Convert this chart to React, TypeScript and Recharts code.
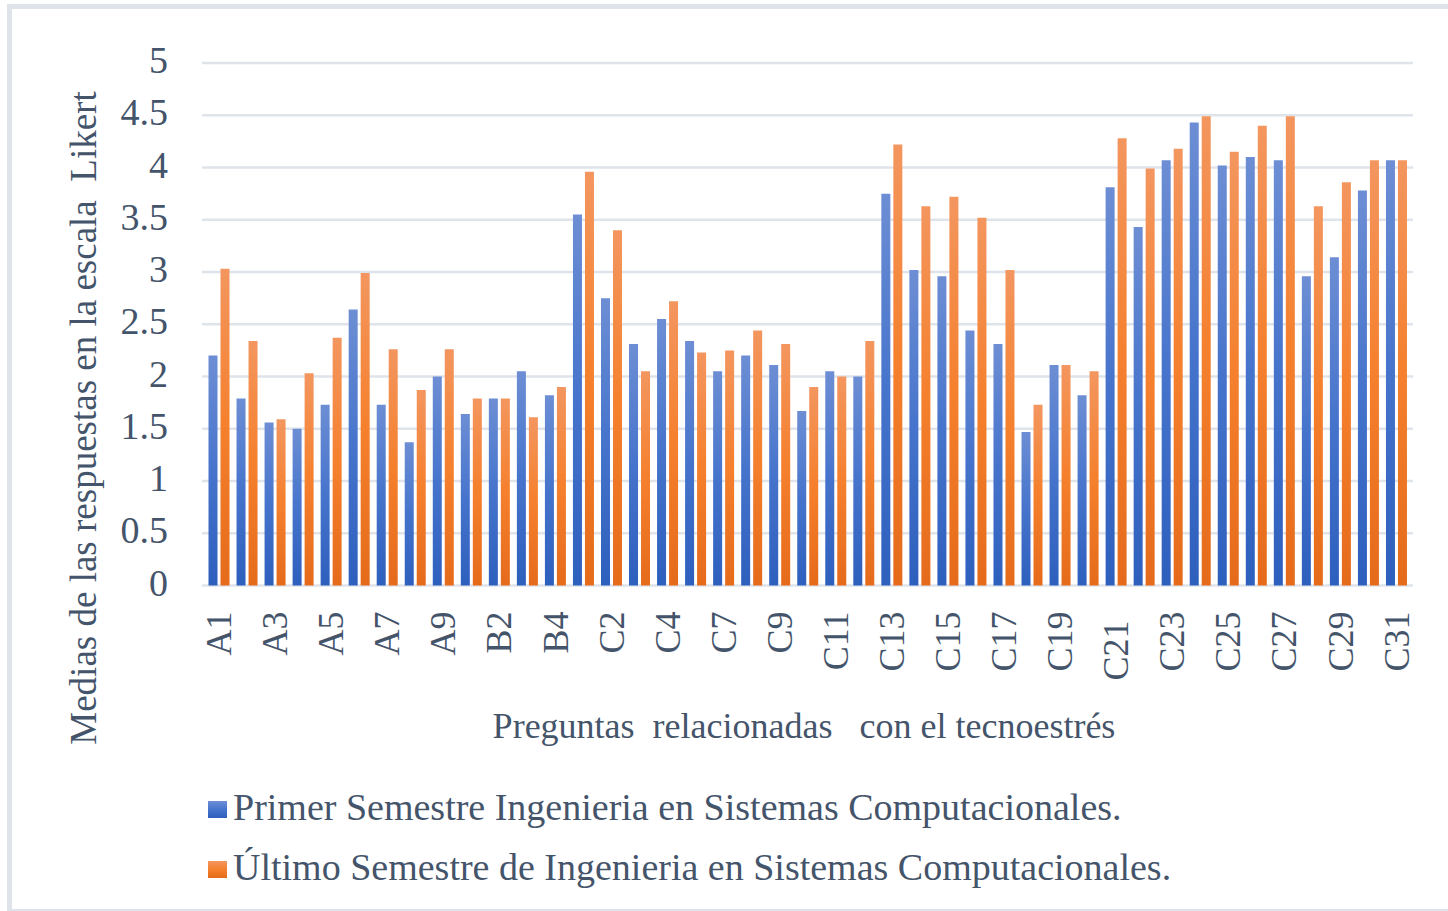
import React from "react";
import { BarChart, Bar, XAxis, YAxis, CartesianGrid } from "recharts";

const categories = [
  "A1", "A2", "A3", "A4", "A5", "A6", "A7", "A8", "A9",
  "B1", "B2", "B3", "B4",
  "C1", "C2", "C3", "C4", "C5", "C7", "C8", "C9", "C10", "C11", "C12",
  "C13", "C14", "C15", "C16", "C17", "C18", "C19", "C20", "C21\u00a0",
  "C22", "C23", "C24", "C25", "C26", "C27", "C28", "C29", "C30", "C31",
];

const primerSemestre = [
  2.2, 1.79, 1.56, 1.5, 1.73, 2.64, 1.73, 1.37, 2.0, 1.64, 1.79, 2.05, 1.82,
  3.55, 2.75, 2.31, 2.55, 2.34, 2.05, 2.2, 2.11, 1.67, 2.05, 2.0, 3.75, 3.02,
  2.96, 2.44, 2.31, 1.47, 2.11, 1.82, 3.81, 3.43, 4.07, 4.43, 4.02, 4.1, 4.07,
  2.96, 3.14, 3.78, 4.07,
];

const ultimoSemestre = [
  3.03, 2.34, 1.59, 2.03, 2.37, 2.99, 2.26, 1.87, 2.26, 1.79, 1.79, 1.61, 1.9,
  3.96, 3.4, 2.05, 2.72, 2.23, 2.25, 2.44, 2.31, 1.9, 2.0, 2.34, 4.22, 3.63,
  3.72, 3.52, 3.02, 1.73, 2.11, 2.05, 4.28, 3.99, 4.18, 4.49, 4.15, 4.4, 4.49,
  3.63, 3.86, 4.07, 4.07,
];

const yTicks = [0, 0.5, 1, 1.5, 2, 2.5, 3, 3.5, 4, 4.5, 5];

const series = [
  { key: "primer", name: "Primer Semestre Ingenieria en Sistemas Computacionales.", grad: "gradBlue", stops: ["#6d8ed4", "#4674cc", "#2d5fbd"] },
  { key: "ultimo", name: "Último Semestre de Ingenieria en Sistemas Computacionales.", grad: "gradOrange", stops: ["#f3965f", "#f5802d", "#e56b1b"] },
];

const chartData = categories.map((c, i) => ({
  name: c,
  primer: primerSemestre[i],
  ultimo: ultimoSemestre[i],
}));

const FONT = '"Liberation Serif", "Times New Roman", serif';
const TEXT = "#44546a";

function XTick(props: any) {
  const { x, y, payload } = props;
  return (
    <text
      x={x}
      y={y}
      transform={`rotate(-90 ${x} ${y})`}
      textAnchor="end"
      dy="0.35em"
      fontFamily={FONT}
      fontSize={36}
      fill={TEXT}
      style={{ whiteSpace: "pre" }}
    >
      {payload.value}
    </text>
  );
}

function YTick(props: any) {
  const { x, y, payload } = props;
  return (
    <text x={x} y={y} dy={10} textAnchor="end" fontFamily={FONT} fontSize={38} fill={TEXT}>
      {payload.value}
    </text>
  );
}

export default function App() {
  return (
    <div style={{ position: "absolute", left: 0, top: 0, width: 1448, height: 911, background: "#fff", overflow: "hidden" }}>
      <div
        style={{
          position: "absolute",
          left: 7,
          top: 4,
          width: 1450,
          height: 900,
          border: "5px solid #dfe3ea",
        }}
      />
      <div style={{ position: "absolute", left: 0, top: 0 }}>
        <BarChart
          width={1448}
          height={911}
          data={chartData}
          margin={{ top: 63, right: 35, bottom: 225.5, left: 0 }}
          barGap={3}
          barSize={9}
        >
          <defs>
            {series.map((s) => (
              <linearGradient key={s.grad} id={s.grad} x1="0" y1="0" x2="0" y2="1">
                <stop offset="0%" stopColor={s.stops[0]} />
                <stop offset="50%" stopColor={s.stops[1]} />
                <stop offset="100%" stopColor={s.stops[2]} />
              </linearGradient>
            ))}
          </defs>
          <CartesianGrid vertical={false} stroke="#dfe3ea" strokeWidth={2.5} />
          <XAxis
            dataKey="name"
            interval={1}
            height={100}
            axisLine={false}
            tickLine={false}
            tickMargin={20}
            padding={{ left: 2.5, right: 3 }}
            tick={<XTick />}
          />
          <YAxis
            width={202}
            domain={[0, 5]}
            ticks={yTicks}
            axisLine={false}
            tickLine={false}
            tickMargin={28}
            tick={<YTick />}
          />
          {series.map((s) => (
            <Bar key={s.key} dataKey={s.key} name={s.name} fill={`url(#${s.grad})`} isAnimationActive={false} />
          ))}
        </BarChart>
      </div>

      <div
        style={{
          position: "absolute",
          left: 83,
          top: 418,
          transform: "translate(-50%, -50%) rotate(-90deg)",
          whiteSpace: "pre",
          fontFamily: FONT,
          fontSize: 37,
          lineHeight: 1,
          color: TEXT,
        }}
      >
        {"Medias de las respuestas en la escala  Likert"}
      </div>

      <div
        style={{
          position: "absolute",
          left: 804,
          top: 708,
          transform: "translateX(-50%)",
          whiteSpace: "pre",
          fontFamily: FONT,
          fontSize: 36,
          lineHeight: 1,
          color: TEXT,
        }}
      >
        {"Preguntas  relacionadas   con el tecnoestrés"}
      </div>

      <div style={{ position: "absolute", left: 208, top: 786, fontFamily: FONT, fontSize: 38, color: TEXT }}>
        {series.map((s, i) => (
          <div key={s.key} style={{ display: "flex", alignItems: "flex-end", height: 40, marginBottom: i === 0 ? 20 : 0, whiteSpace: "pre", lineHeight: 1 }}>
            <span
              style={{
                display: "inline-block",
                width: 19,
                height: 17,
                marginRight: 6,
                marginBottom: 8,
                background: `linear-gradient(${s.stops[0]}, ${s.stops[1]}, ${s.stops[2]})`,
              }}
            />
            <span>{s.name}</span>
          </div>
        ))}
      </div>
    </div>
  );
}
